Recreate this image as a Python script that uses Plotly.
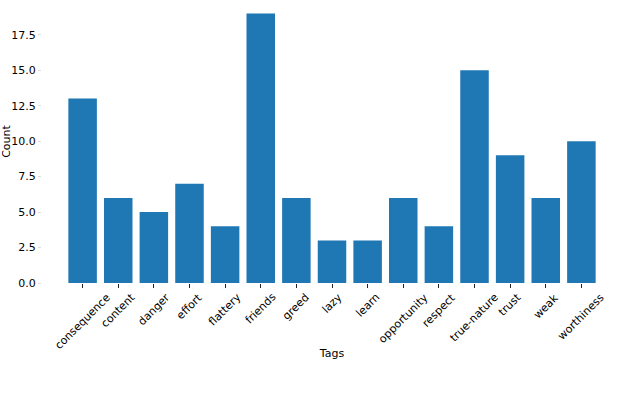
import plotly.graph_objects as go

tags = ["consequence", "content", "danger", "effort", "flattery", "friends", "greed",
        "lazy", "learn", "opportunity", "respect", "true-nature", "trust", "weak", "worthiness"]
counts = [13, 6, 5, 7, 4, 19, 6, 3, 3, 6, 4, 15, 9, 6, 10]
yticks = [0, 2.5, 5, 7.5, 10, 12.5, 15, 17.5]
ytick_labels = ["0.0", "2.5", "5.0", "7.5", "10.0", "12.5", "15.0", "17.5"]

FONT = "DejaVu Sans"

fig = go.Figure(go.Bar(x=list(range(len(tags))), y=counts, marker_color="#1f77b4",
                       marker_line_width=0, width=0.8))

annotations = [
    dict(x=i, y=0, xref="x", yref="paper", text=t, showarrow=False, textangle=-45,
         xanchor="center", yanchor="top", yshift=-5,
         font=dict(family=FONT, size=11, color="black"))
    for i, t in enumerate(tags)
]

n = len(tags)
fig.update_layout(
    width=624, height=394,
    margin=dict(l=42, r=2, t=0, b=111),
    plot_bgcolor="white", paper_bgcolor="white",
    showlegend=False,
    font=dict(family=FONT, size=11, color="black"),
    annotations=annotations,
    xaxis=dict(range=[-0.4 - 0.74, n - 1 + 0.4 + 0.74], tickmode="array",
               tickvals=list(range(n)), showticklabels=False, ticks="outside",
               ticklen=4, tickwidth=1, tickcolor="#222", showgrid=False, zeroline=False,
               showline=False, automargin=False,
               title=dict(text="Tags", font=dict(family=FONT, size=11), standoff=62)),
    yaxis=dict(range=[0, max(counts) * 1.05], tickmode="array", tickvals=yticks,
               ticktext=ytick_labels, ticks="outside", ticklen=3, tickwidth=1,
               tickcolor="#ddd", showgrid=False, zeroline=False, showline=False,
               automargin=False,
               title=dict(text="Count", font=dict(family=FONT, size=11), standoff=4)),
)

fig.write_html("out.html", config={"displayModeBar": False},
               post_script="document.body.style.margin='0';document.body.style.overflow='hidden';")
